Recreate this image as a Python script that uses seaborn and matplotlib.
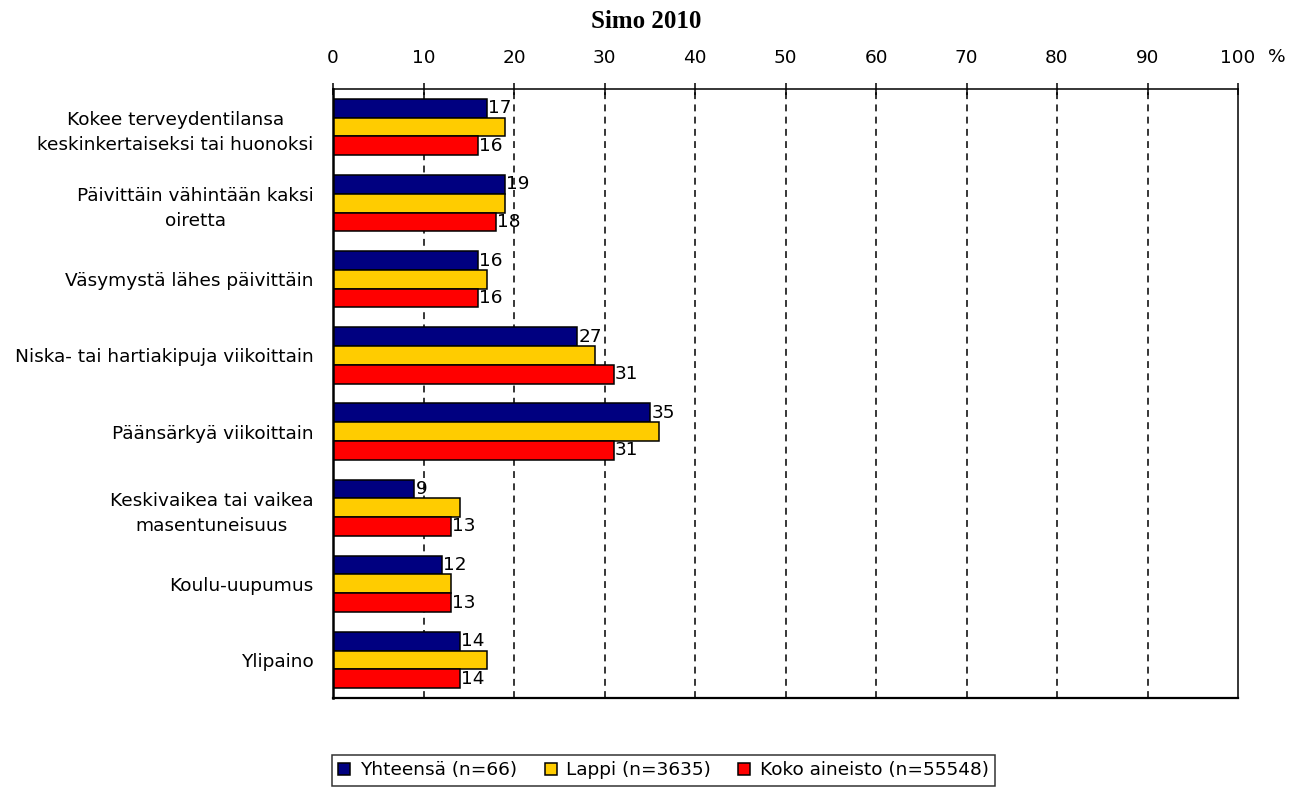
import matplotlib
matplotlib.use("Agg")
import matplotlib.pyplot as plt
import seaborn as sns
import pandas as pd

categories = [
    "Kokee terveydentilansa\nkeskinkertaiseksi tai huonoksi",
    "Päivittäin vähintään kaksi\noiretta",
    "Väsymystä lähes päivittäin",
    "Niska- tai hartiakipuja viikoittain",
    "Päänsärkyä viikoittain",
    "Keskivaikea tai vaikea\nmasentuneisuus",
    "Koulu-uupumus",
    "Ylipaino",
]
series_names = ["Yhteensä (n=66)", "Lappi (n=3635)", "Koko aineisto (n=55548)"]
yhteensa = [17, 19, 16, 27, 35, 9, 12, 14]
lappi = [19, 19, 17, 29, 36, 14, 13, 17]
koko = [16, 18, 16, 31, 31, 13, 13, 14]
colors = ["#000080", "#FFCC00", "#FF0000"]
xticks = [0, 10, 20, 30, 40, 50, 60, 70, 80, 90, 100]

rows = []
for name, vals in zip(series_names, [yhteensa, lappi, koko]):
    for c, v in zip(categories, vals):
        rows.append({"cat": c, "series": name, "value": v})
df = pd.DataFrame(rows)

sns.set_style("white")
plt.rcParams["font.family"] = ["DejaVu Sans"]
plt.rcParams["text.color"] = "black"
plt.rcParams["xtick.color"] = "black"
plt.rcParams["ytick.color"] = "black"
plt.rcParams["axes.labelcolor"] = "black"
FS = 13.3

W, H = 1289, 787
fig = plt.figure(figsize=(W / 100, H / 100), dpi=100)
ax = fig.add_axes([333 / W, 1 - 698 / H, (1238 - 333) / W, (698 - 89) / H])

sns.barplot(data=df, y="cat", x="value", hue="series", hue_order=series_names,
            order=categories, palette=colors, orient="h", width=0.74,
            edgecolor="black", linewidth=1.1, ax=ax, saturation=1, errorbar=None)

for i in (0, 2):
    ax.bar_label(ax.containers[i], fmt="%d", padding=1, fontsize=FS, color="black")

ax.set_xlim(0, 100)
ax.xaxis.tick_top()
ax.set_xticks(xticks)
ax.set_xticklabels([str(t) for t in xticks], fontsize=FS)
ax.tick_params(axis="x", direction="inout", length=9, width=1.1, color="black",
               labelcolor="black", pad=11)
ax.tick_params(axis="y", length=0, labelsize=FS, labelcolor="black", pad=14)
for lab in ax.get_yticklabels():
    lab.set_multialignment("center")
    lab.set_linespacing(1.5)
ax.set_xlabel("")
ax.set_ylabel("")
for t in xticks[1:-1]:
    ax.axvline(t, color="black", linestyle=(0, (4.5, 3.5)), linewidth=1.1, zorder=0)
for s in ax.spines.values():
    s.set_color("black")
    s.set_linewidth(1.1)
ax.spines["left"].set_linewidth(1.8)
ax.spines["bottom"].set_linewidth(1.6)

fig.text(1277 / W, 1 - 57 / H, "%", fontsize=FS, va="center", ha="center")

fig.text(646 / W, 1 - 22 / H, "Simo 2010", ha="center", va="center", fontsize=18,
         fontweight="bold", family="Liberation Serif")

leg = ax.legend(loc="upper left", bbox_to_anchor=(332 / W, 1 - 755 / H),
                bbox_transform=fig.transFigure, ncol=3, frameon=True, fontsize=FS,
                handlelength=0.65, handleheight=0.65, handletextpad=0.5,
                columnspacing=1.5, borderpad=0.35, borderaxespad=0,
                fancybox=False, edgecolor="black")
leg.get_frame().set_linewidth(1.1)
for t in leg.get_texts():
    t.set_color("black")

fig.savefig("out.png", dpi=100)
